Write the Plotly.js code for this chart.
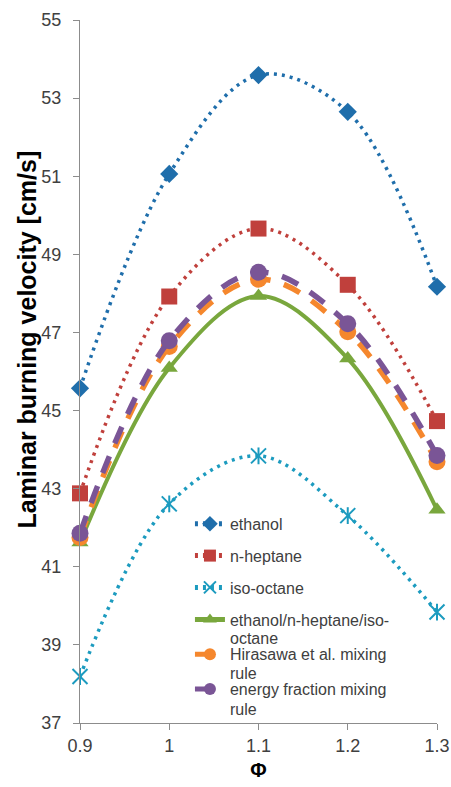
<!DOCTYPE html>
<html>
<head>
<meta charset="utf-8">
<script src="https://cdn.plot.ly/plotly-3.0.1.min.js"></script>
<style>
html, body { margin: 0; padding: 0; background: #ffffff; }
#chart { width: 451px; height: 787px; }
</style>
</head>
<body>
<div id="chart"></div>
<script>
// ---- data ----
const phi = [0.9, 1.0, 1.1, 1.2, 1.3];
const xTickLabels = ["0.9", "1", "1.1", "1.2", "1.3"];
const yTickVals = [37, 39, 41, 43, 45, 47, 49, 51, 53, 55];
const ethanol = [45.57, 51.06, 53.59, 52.65, 48.17];
const nHeptane = [42.88, 47.92, 49.66, 48.22, 44.73];
const isoOctane = [38.19, 42.61, 43.84, 42.31, 39.84];
const blend = [41.62, 46.09, 47.93, 46.33, 42.46];
const hirasawa = [41.75, 46.64, 48.36, 47.02, 43.69];
const energyFraction = [41.86, 46.79, 48.54, 47.22, 43.85];
const seriesNames = ["ethanol", "n-heptane", "iso-octane",
  "ethanol/n-heptane/iso-", "Hirasawa et al. mixing", "energy fraction mixing"];
const nameContinuations = ["octane", "rule", "rule"];
const yTitle = "Laminar burning velocity [cm/s]";
const xTitle = "Φ";

const FONT = "'Liberation Sans', Arial, sans-serif";
const TXT = "#404040";
const AX = "#8c8c8c";

function tr(y, name, color, dash, width, symbol, size, legendId, extra) {
  return Object.assign({
    x: phi, y: y, name: name, type: "scatter", mode: "lines+markers",
    legendgroup: name, legend: legendId, cliponaxis: false,
    line: { color: color, dash: dash, width: width, shape: "spline", smoothing: 1 },
    marker: { symbol: symbol, size: size, color: color }
  }, extra || {});
}

const traces = [
  tr(ethanol, seriesNames[0], "#1f6eab", "3px,5px", 3.5, "diamond", 14, "legend"),
  tr(nHeptane, seriesNames[1], "#c0403c", "3px,5px", 3.5, "square", 16, "legend"),
  tr(isoOctane, seriesNames[2], "#1c9bbf", "3px,5px", 3.5, "x-thin-open", 15, "legend",
     { marker: { symbol: "x-thin-open", size: 15, color: "#1c9bbf", line: { color: "#1c9bbf", width: 2 } } }),
  tr(blend, seriesNames[3], "#79a73d", "solid", 4, "triangle-up", 15, "legend2"),
  tr(hirasawa, seriesNames[4], "#f5872d", "18px,14px", 5.5, "circle", 17, "legend2"),
  tr(energyFraction, seriesNames[5], "#7a5596", "18px,14px", 5.5, "circle", 17, "legend2")
];
// vertical bar of the iso-octane star marker
traces.splice(3, 0, {
  x: phi, y: isoOctane, type: "scatter", mode: "markers", showlegend: false,
  cliponaxis: false, hoverinfo: "skip",
  marker: { symbol: "line-ns-open", size: 12, color: "#1c9bbf", line: { color: "#1c9bbf", width: 2 } }
});

const axisCommon = {
  showgrid: false, zeroline: false, showline: true, linecolor: AX, linewidth: 1,
  ticks: "outside", ticklen: 6, tickcolor: AX, tickwidth: 1,
  tickfont: { family: FONT, size: 18, color: TXT }
};

const legendFont = { family: FONT, size: 16, color: TXT };

const layout = {
  width: 451, height: 787,
  margin: { l: 80, r: 14, t: 20, b: 64 },
  paper_bgcolor: "#ffffff", plot_bgcolor: "#ffffff",
  showlegend: true,
  xaxis: Object.assign({}, axisCommon, {
    range: [0.9, 1.3], tickmode: "array", tickvals: phi, ticktext: xTickLabels,
    title: { text: xTitle, font: { family: FONT, size: 20, color: "#000000", weight: "bold" }, standoff: 8 }
  }),
  yaxis: Object.assign({}, axisCommon, {
    range: [37, 55], tickmode: "array", tickvals: yTickVals,
    ticktext: yTickVals.map(String), ticklabelstandoff: 8
  }),
  legend: {
    x: 0.308, y: 0.3074, xanchor: "left", yanchor: "top",
    bgcolor: "rgba(0,0,0,0)", borderwidth: 0, font: legendFont,
    tracegroupgap: 8, itemsizing: "constant"
  },
  legend2: {
    x: 0.308, y: 0.1714, xanchor: "left", yanchor: "top",
    bgcolor: "rgba(0,0,0,0)", borderwidth: 0, font: legendFont,
    tracegroupgap: 11, itemsizing: "constant"
  },
  annotations: [
    { text: yTitle, xref: "paper", yref: "paper", x: -0.151, y: 0.5455,
      xanchor: "center", yanchor: "middle", textangle: -90, showarrow: false,
      font: { family: FONT, size: 25, color: "#000000", weight: "bold" } },
    { text: nameContinuations[0], xref: "paper", yref: "paper", x: 0.415, y: (723 - 638) / 703,
      xanchor: "left", yanchor: "middle", showarrow: false, font: legendFont },
    { text: nameContinuations[1], xref: "paper", yref: "paper", x: 0.415, y: (723 - 673.5) / 703,
      xanchor: "left", yanchor: "middle", showarrow: false, font: legendFont },
    { text: nameContinuations[2], xref: "paper", yref: "paper", x: 0.415, y: (723 - 709) / 703,
      xanchor: "left", yanchor: "middle", showarrow: false, font: legendFont }
  ]
};

Plotly.newPlot("chart", traces, layout, { displayModeBar: false, staticPlot: true });
</script>
</body>
</html>
